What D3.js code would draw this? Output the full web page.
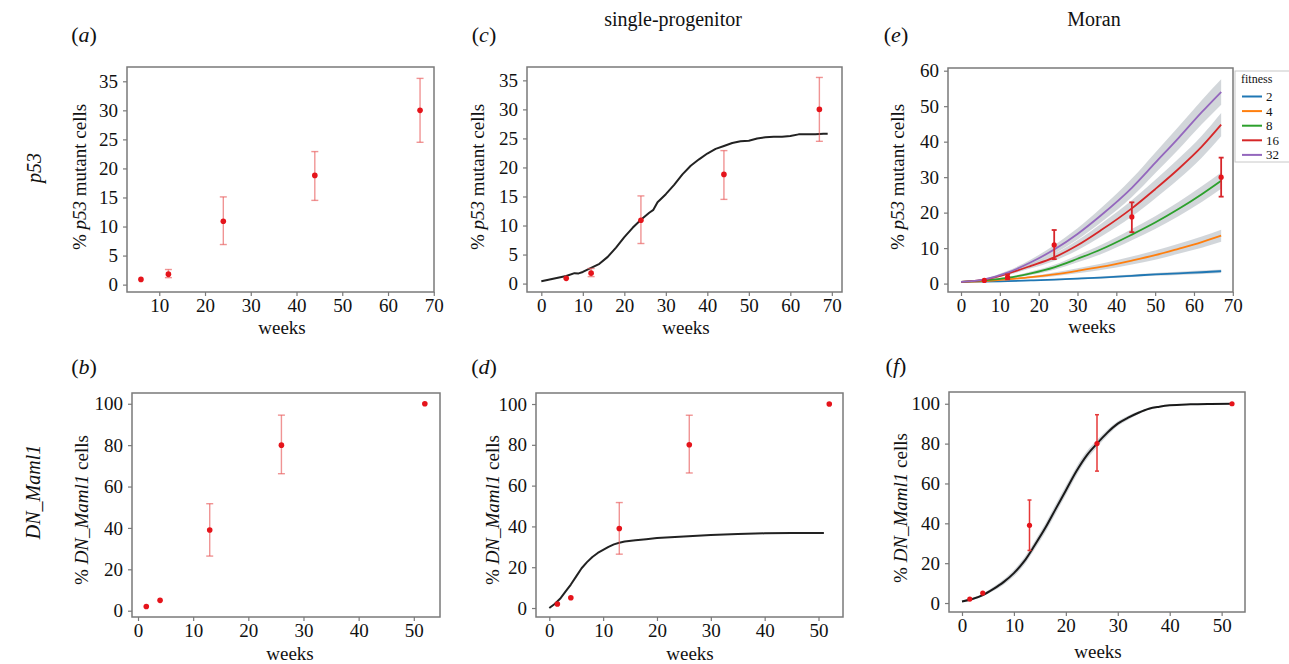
<!DOCTYPE html>
<html><head><meta charset="utf-8">
<script src="https://cdn.jsdelivr.net/npm/d3@7"></script>
<style>body{margin:0;background:#fff} svg{display:block;font-family:"Liberation Serif","Times New Roman",serif}</style>
</head><body><svg id="c" width="1289" height="664"></svg>
<script>
// ---------- data ----------
// p53 observations
const weeksP53 = [6, 12, 24, 44, 67];
const meanP53  = [0.9, 1.8, 10.9, 18.8, 30.0];
const loP53    = [null, 1.2, 6.9, 14.5, 24.5];
const hiP53    = [null, 2.6, 15.1, 22.9, 35.5];
// DN_Maml1 observations
const weeksMaml = [1.5, 4, 13, 26, 52];
const meanMaml  = [2, 5, 39, 80, 100];
const loMaml    = [null, null, 26.4, 66.2, null];
const hiMaml    = [null, null, 51.7, 94.5, null];
// single-progenitor fit, p53
const spP53Weeks = [0,2,4,6,8,9,10,12,14,16,18,20,22,24,26,27,28,30,32,34,36,38,40,42,44,46,48,50,52,54,56,58,60,62,64,66,68,69];
const spP53Vals  = [0.4,0.7,1.0,1.3,1.8,1.75,2.0,2.7,3.4,4.6,6.2,8.0,9.6,11.0,12.2,12.7,14.0,15.4,17.0,18.8,20.3,21.4,22.4,23.2,23.7,24.2,24.5,24.6,25.0,25.2,25.3,25.3,25.4,25.7,25.7,25.7,25.8,25.8];
// single-progenitor fit, DN_Maml1
const spMamlWeeks = [0,1,2,3,4,5,6,7,8,9,10,11,12,13,14,16,18,20,25,30,35,40,45,51];
const spMamlVals  = [0,2,4.5,8,11.5,15.5,19.5,22.5,25,27,28.5,30,31.2,32,32.6,33.2,33.7,34.3,35,35.8,36.3,36.6,36.8,36.8];
// Moran fits, p53, by fitness
const fitnessLevels = ["2", "4", "8", "16", "32"];
const fitnessColors = ["#1f77b4", "#ff7f0e", "#2ca02c", "#d62728", "#9467bd"];
const moranWeeks = [0, 6, 12, 18, 24, 30, 36, 44, 50, 56, 62, 67];
const moranF2  = [0.5, 0.55, 0.7, 0.9, 1.1, 1.4, 1.7, 2.2, 2.6, 2.9, 3.2, 3.5];
const moranF4  = [0.5, 0.7, 1.2, 1.8, 2.6, 3.6, 4.7, 6.5, 8.0, 9.8, 11.7, 13.5];
const moranF8  = [0.5, 0.9, 1.6, 2.9, 4.6, 7.0, 9.6, 13.8, 17.2, 21.0, 25.2, 29.0];
const moranF16 = [0.5, 1.1, 2.8, 5.0, 7.4, 10.8, 15.0, 21.2, 26.6, 32.3, 38.6, 44.8];
const moranF32 = [0.5, 1.2, 3.1, 6.0, 9.6, 14.0, 19.2, 27.0, 34.0, 41.0, 48.3, 54.0];
const bandF2  = [0, 0.05, 0.1, 0.15, 0.2, 0.25, 0.3, 0.35, 0.4, 0.45, 0.5, 0.5];
const bandF4  = [0, 0.1, 0.2, 0.3, 0.5, 0.7, 0.9, 1.1, 1.3, 1.4, 1.6, 1.7];
const bandF8  = [0, 0.1, 0.3, 0.5, 0.7, 1.0, 1.3, 1.6, 1.8, 2.0, 2.2, 2.3];
const bandF16 = [0, 0.2, 0.4, 0.7, 1.0, 1.4, 1.8, 2.3, 2.6, 2.9, 3.1, 3.3];
const bandF32 = [0, 0.2, 0.5, 0.8, 1.2, 1.6, 2.0, 2.6, 2.9, 3.2, 3.4, 3.6];
// Moran fit, DN_Maml1
const moranMamlWeeks = [0,2,4,6,8,10,12,14,16,18,20,22,24,26,28,30,32,34,36,38,40,44,48,52];
const moranMamlVals  = [0.8,2,4,7,10.5,15,21,29,37.5,47,56.5,66,74,80,85.5,90,93,95.5,97.5,98.5,99.2,99.7,99.9,100];
const moranMamlBand  = [0.3,0.5,0.7,1,1.3,1.6,1.8,2,2.2,2.3,2.3,2.2,2,1.8,1.5,1.2,1,0.7,0.5,0.4,0.3,0.2,0.1,0.1];
// ticks
const ticksWeeksA = [10, 20, 30, 40, 50, 60, 70];
const ticksWeeks70 = [0, 10, 20, 30, 40, 50, 60, 70];
const ticksWeeks50 = [0, 10, 20, 30, 40, 50];
const ticksP53 = [0, 5, 10, 15, 20, 25, 30, 35];
const ticksP53Moran = [0, 10, 20, 30, 40, 50, 60];
const ticksMaml = [0, 20, 40, 60, 80, 100];

// ---------- drawing ----------
const svg = d3.select('#c');
const FS = 19;

function zip(xs, ys) { return xs.map((d, i) => ({x: d, y: ys[i]})); }
function obs(w, m, lo, hi) { return w.map((d, i) => ({x: d, y: m[i], lo: lo[i], hi: hi[i]})); }

function makePanel(o) {
  const g = svg.append('g');
  const x = d3.scaleLinear().domain(o.xDomain).range([o.left, o.right]);
  const y = d3.scaleLinear().domain(o.yDomain).range([o.bottom, o.top]);

  (o.bands || []).forEach(b => {
    const area = d3.area().x(d => x(d.x)).y0(d => y(d.y - d.h)).y1(d => y(d.y + d.h)).curve(d3.curveMonotoneX);
    g.append('path').datum(b.data).attr('d', area).attr('fill', '#c3c8ce').attr('fill-opacity', 0.75);
  });
  (o.lines || []).forEach(l => {
    const line = d3.line().x(d => x(d.x)).y(d => y(d.y)).curve(l.curve || d3.curveLinear);
    g.append('path').datum(l.data).attr('d', line).attr('fill', 'none')
      .attr('stroke', l.color).attr('stroke-width', l.width || 2).attr('stroke-linejoin', 'round');
  });
  const pts = o.points;
  const eb = pts.filter(d => d.lo != null);
  const es = o.errStyle;
  g.selectAll('.eb').data(eb).join('line').attr('x1', d => x(d.x)).attr('x2', d => x(d.x))
    .attr('y1', d => y(d.lo)).attr('y2', d => y(d.hi)).attr('stroke', es.color).attr('stroke-width', es.width);
  ['lo', 'hi'].forEach(k => {
    g.selectAll('.cap' + k).data(eb).join('line').attr('x1', d => x(d.x) - es.cap).attr('x2', d => x(d.x) + es.cap)
      .attr('y1', d => y(d[k])).attr('y2', d => y(d[k])).attr('stroke', es.color).attr('stroke-width', es.width);
  });
  g.selectAll('.pt').data(pts).join('circle').attr('cx', d => x(d.x)).attr('cy', d => y(d.y))
    .attr('r', o.ptR || 2.8).attr('fill', o.ptColor || '#e5141b');

  g.append('rect').attr('x', o.left).attr('y', o.top).attr('width', o.right - o.left).attr('height', o.bottom - o.top)
    .attr('fill', 'none').attr('stroke', '#7a7a7a').attr('stroke-width', 1.5);

  const ax = g.append('g').attr('transform', `translate(0,${o.bottom})`)
    .call(d3.axisBottom(x).tickValues(o.xTicks).tickSize(4).tickPadding(3));
  const ay = g.append('g').attr('transform', `translate(${o.left},0)`)
    .call(d3.axisLeft(y).tickValues(o.yTicks).tickSize(4).tickPadding(5));
  [ax, ay].forEach(a => {
    a.select('.domain').remove();
    a.attr('font-family', null).attr('font-size', FS);
    a.selectAll('line').attr('stroke', '#7a7a7a').attr('stroke-width', 1.2);
    a.selectAll('text').attr('fill', '#111');
  });

  g.append('text').attr('x', o.xlab[0]).attr('y', o.xlab[1]).attr('text-anchor', 'middle')
    .attr('font-size', FS).attr('fill', '#111').text('weeks');
  const yl = g.append('text').attr('transform', `translate(${o.ylab[0]},${o.ylab[1]}) rotate(-90)`)
    .attr('text-anchor', 'middle').attr('font-size', FS).attr('fill', '#111');
  o.ylabParts.forEach(p => {
    yl.append('tspan').attr('font-style', p[1] ? 'italic' : null).text(p[0]);
  });
  const t = g.append('text').attr('x', o.tag[0]).attr('y', o.tag[1]).attr('text-anchor', 'middle')
    .attr('font-size', 22).attr('fill', '#111');
  t.append('tspan').text('(');
  t.append('tspan').attr('font-style', 'italic').text(o.tag[2]);
  t.append('tspan').text(')');
  return {x, y};
}

const ylP53 = [['% ', false], ['p53', true], [' mutant cells', false]];
const ylMaml = [['% ', false], ['DN_Maml1', true], [' cells', false]];
const errLight = {color: 'rgba(232,90,90,0.65)', width: 1.4, cap: 3.5};
const errDark = {color: '#d7262b', width: 1.8, cap: 2.5};

// (a)
makePanel({left: 127, right: 434, top: 67, bottom: 292, xDomain: [2.95, 70.05], yDomain: [-1.27, 37.46],
  xTicks: ticksWeeksA, yTicks: ticksP53, points: obs(weeksP53, meanP53, loP53, hiP53), errStyle: errLight,
  xlab: [282, 334], ylab: [86, 177], ylabParts: ylP53, tag: [84, 42, 'a']});
// (c)
makePanel({left: 527, right: 842, top: 67, bottom: 292, xDomain: [-3.45, 72.45], yDomain: [-1.45, 37.3],
  xTicks: ticksWeeks70, yTicks: ticksP53, points: obs(weeksP53, meanP53, loP53, hiP53), errStyle: errLight,
  lines: [{data: zip(spP53Weeks, spP53Vals), color: '#222', width: 2}],
  xlab: [686, 334], ylab: [484, 177], ylabParts: ylP53, tag: [484, 42, 'c']});
// (e)
const moranVals = [moranF2, moranF4, moranF8, moranF16, moranF32];
const moranBands = [bandF2, bandF4, bandF8, bandF16, bandF32];
makePanel({left: 948, right: 1233, top: 68, bottom: 292, xDomain: [-3.35, 70.05], yDomain: [-2.37, 60.76],
  xTicks: ticksWeeks70, yTicks: ticksP53Moran, points: obs(weeksP53, meanP53, loP53, hiP53), errStyle: errDark, ptR: 2.6,
  bands: moranVals.map((v, k) => ({data: moranWeeks.map((w, i) => ({x: w, y: v[i], h: moranBands[k][i]}))})),
  lines: moranVals.map((v, k) => ({data: zip(moranWeeks, v), color: fitnessColors[k], width: 1.8, curve: d3.curveMonotoneX})),
  xlab: [1092, 333], ylab: [904, 177], ylabParts: ylP53, tag: [896, 42, 'e']});
// (b)
makePanel({left: 132, right: 440, top: 393, bottom: 617, xDomain: [-1.09, 54.75], yDomain: [-3.04, 105.2],
  xTicks: ticksWeeks50, yTicks: ticksMaml, points: obs(weeksMaml, meanMaml, loMaml, hiMaml), errStyle: errLight,
  xlab: [290, 660], ylab: [88, 510], ylabParts: ylMaml, tag: [84, 374, 'b']});
// (d)
makePanel({left: 536, right: 843, top: 393, bottom: 617, xDomain: [-2.47, 54.55], yDomain: [-4.4, 105.4],
  xTicks: ticksWeeks50, yTicks: ticksMaml, points: obs(weeksMaml, meanMaml, loMaml, hiMaml), errStyle: errLight,
  lines: [{data: zip(spMamlWeeks, spMamlVals), color: '#222', width: 2}],
  xlab: [690, 660], ylab: [499, 510], ylabParts: ylMaml, tag: [484, 374, 'd']});
// (f)
makePanel({left: 949, right: 1245, top: 392, bottom: 612, xDomain: [-2.5, 54.5], yDomain: [-4.5, 105.9],
  xTicks: ticksWeeks50, yTicks: ticksMaml, points: obs(weeksMaml, meanMaml, loMaml, hiMaml), errStyle: {color: '#e63838', width: 1.5, cap: 2},
  ptR: 2.6,
  bands: [{data: moranMamlWeeks.map((w, i) => ({x: w, y: moranMamlVals[i], h: moranMamlBand[i]}))}],
  lines: [{data: zip(moranMamlWeeks, moranMamlVals), color: '#1a1a1a', width: 2, curve: d3.curveMonotoneX}],
  xlab: [1098, 658], ylab: [907, 508], ylabParts: ylMaml, tag: [896, 373, 'f']});

// column titles
svg.append('text').attr('x', 673).attr('y', 26).attr('text-anchor', 'middle').attr('font-size', 20).attr('fill', '#111').text('single-progenitor');
svg.append('text').attr('x', 1094).attr('y', 26).attr('text-anchor', 'middle').attr('font-size', 20).attr('fill', '#111').text('Moran');
// row titles
svg.append('text').attr('transform', 'translate(41,168) rotate(-90)').attr('text-anchor', 'middle').attr('font-size', 20)
  .attr('font-style', 'italic').attr('fill', '#111').text('p53');
svg.append('text').attr('transform', 'translate(40,492) rotate(-90)').attr('text-anchor', 'middle').attr('font-size', 20)
  .attr('font-style', 'italic').attr('fill', '#111').text('DN_Maml1');

// legend
const lg = svg.append('g');
lg.append('rect').attr('x', 1235).attr('y', 71).attr('width', 60).attr('height', 91).attr('fill', '#fff').attr('stroke', '#c8c8c8');
lg.append('text').attr('x', 1241).attr('y', 83).attr('font-size', 12).attr('fill', '#111').text('fitness');
fitnessLevels.forEach((f, i) => {
  const yy = 96.5 + i * 14.6;
  lg.append('line').attr('x1', 1242).attr('x2', 1262).attr('y1', yy).attr('y2', yy).attr('stroke', fitnessColors[i]).attr('stroke-width', 2);
  lg.append('text').attr('x', 1266).attr('y', yy + 4.5).attr('font-size', 13).attr('fill', '#111').text(f);
});
</script></body></html>
